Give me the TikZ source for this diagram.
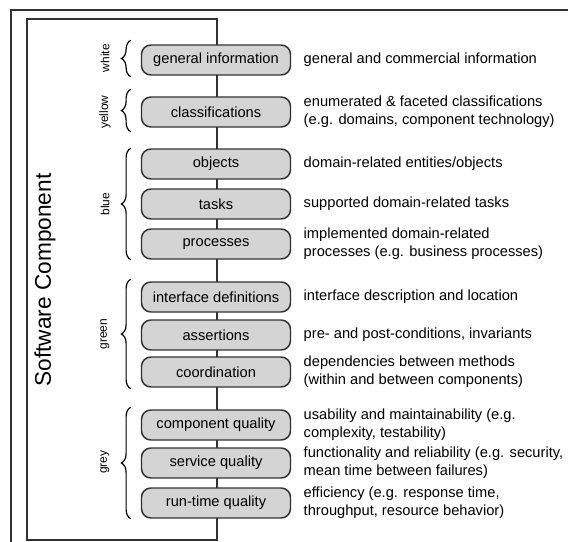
\documentclass[tikz,border=0pt]{standalone}
\usepackage{fontspec}
\setmainfont{Liberation Sans}
\usetikzlibrary{calc,decorations.pathreplacing}

\definecolor{boxfill}{RGB}{212,212,212}
\definecolor{linegray}{RGB}{50,50,50}

\tikzset{every picture/.style={line width=0.75pt}}

\begin{document}
\begin{tikzpicture}[
            x=0.75pt,
            y=0.75pt,
            yscale=-1,
            xscale=1,
            every node/.style={text=black},
            line width=1.1pt,
            part/.style={draw=linegray, fill=boxfill, rounded corners=7pt, minimum width=111.75pt, minimum height=22.5pt, inner sep=0pt, font=\fontsize{11}{13.7}\selectfont},
            desc/.style={anchor=west, inner sep=0pt, align=left, font=\fontsize{11}{13.7}\selectfont},
            grp/.style={rotate=90, inner sep=0pt, font=\fontsize{9}{11}\selectfont},
            grpbrace/.style={draw=black, line width=0.9pt, decorate, decoration={brace, amplitude=7pt}}
        ]
            \useasboundingbox (0,0) rectangle (568,542);

            % frames
            \draw [linegray]  (11,542) -- (11,10) -- (568,10);
            \draw [linegray]  (27,19) rectangle (217,540);

            \node [rotate=90, inner sep=0pt, font=\fontsize{17}{20}\selectfont] (title) at (45,280) {Software Component};

            % parts of the component
            \node [part] (gi) at (216,60) {general information};
            \node [part] (cl) at (216,112) {classifications};
            \node [part] (ob) at (216,164) {objects};
            \node [part] (ta) at (216,204) {tasks};
            \node [part] (pr) at (216,244) {processes};
            \node [part] (id) at (216,297) {interface definitions};
            \node [part] (as) at (216,335) {assertions};
            \node [part] (co) at (216,372) {coordination};
            \node [part] (cq) at (216,425) {component quality};
            \node [part] (sq) at (216,463) {service quality};
            \node [part] (rq) at (216,503) {run-time quality};

            % descriptions
            \node [desc] (dgi) at (303,60) {general and commercial information};
            \node [desc] (dcl) at (303,112) {enumerated \& faceted classifications\\(e.g. domains, component technology)};
            \node [desc] (dob) at (303,164) {domain-related entities/objects};
            \node [desc] (dta) at (303,204) {supported domain-related tasks};
            \node [desc] (dpr) at (303,244) {implemented domain-related\\processes (e.g. business processes)};
            \node [desc] (did) at (303,297) {interface description and location};
            \node [desc] (das) at (303,335) {pre- and post-conditions, invariants};
            \node [desc] (dco) at (303,372) {dependencies between methods\\(within and between components)};
            \node [desc] (dcq) at (303,425) {usability and maintainability (e.g.\\complexity, testability)};
            \node [desc] (dsq) at (303,463) {functionality and reliability (e.g. security,\\mean time between failures)};
            \node [desc] (drq) at (303,503) {efficiency (e.g. response time,\\throughput, resource behavior)};

            % braces and group labels
            \draw [grpbrace]  ($(gi.south west)+(-10,1)$) -- ($(gi.north west)+(-10,-4)$);
            \draw [grpbrace]  ($(cl.south west)+(-10,4)$) -- ($(cl.north west)+(-10,-7)$);
            \draw [grpbrace]  ($(pr.south west)+(-10,0)$) -- ($(ob.north west)+(-10,0)$);
            \draw [grpbrace]  ($(co.south west)+(-10,1)$) -- ($(id.north west)+(-10,-2)$);
            \draw [grpbrace]  ($(rq.south west)+(-10,0)$) -- ($(cq.north west)+(-10,-2)$);

            \node [grp] (lgi) at (105,58) {white};
            \node [grp] (lcl) at (105,112) {yellow};
            \node [grp] (lob) at (105,204) {blue};
            \node [grp] (lid) at (105,334) {green};
            \node [grp] (lcq) at (105,462) {grey};
        \end{tikzpicture}
\end{document}
